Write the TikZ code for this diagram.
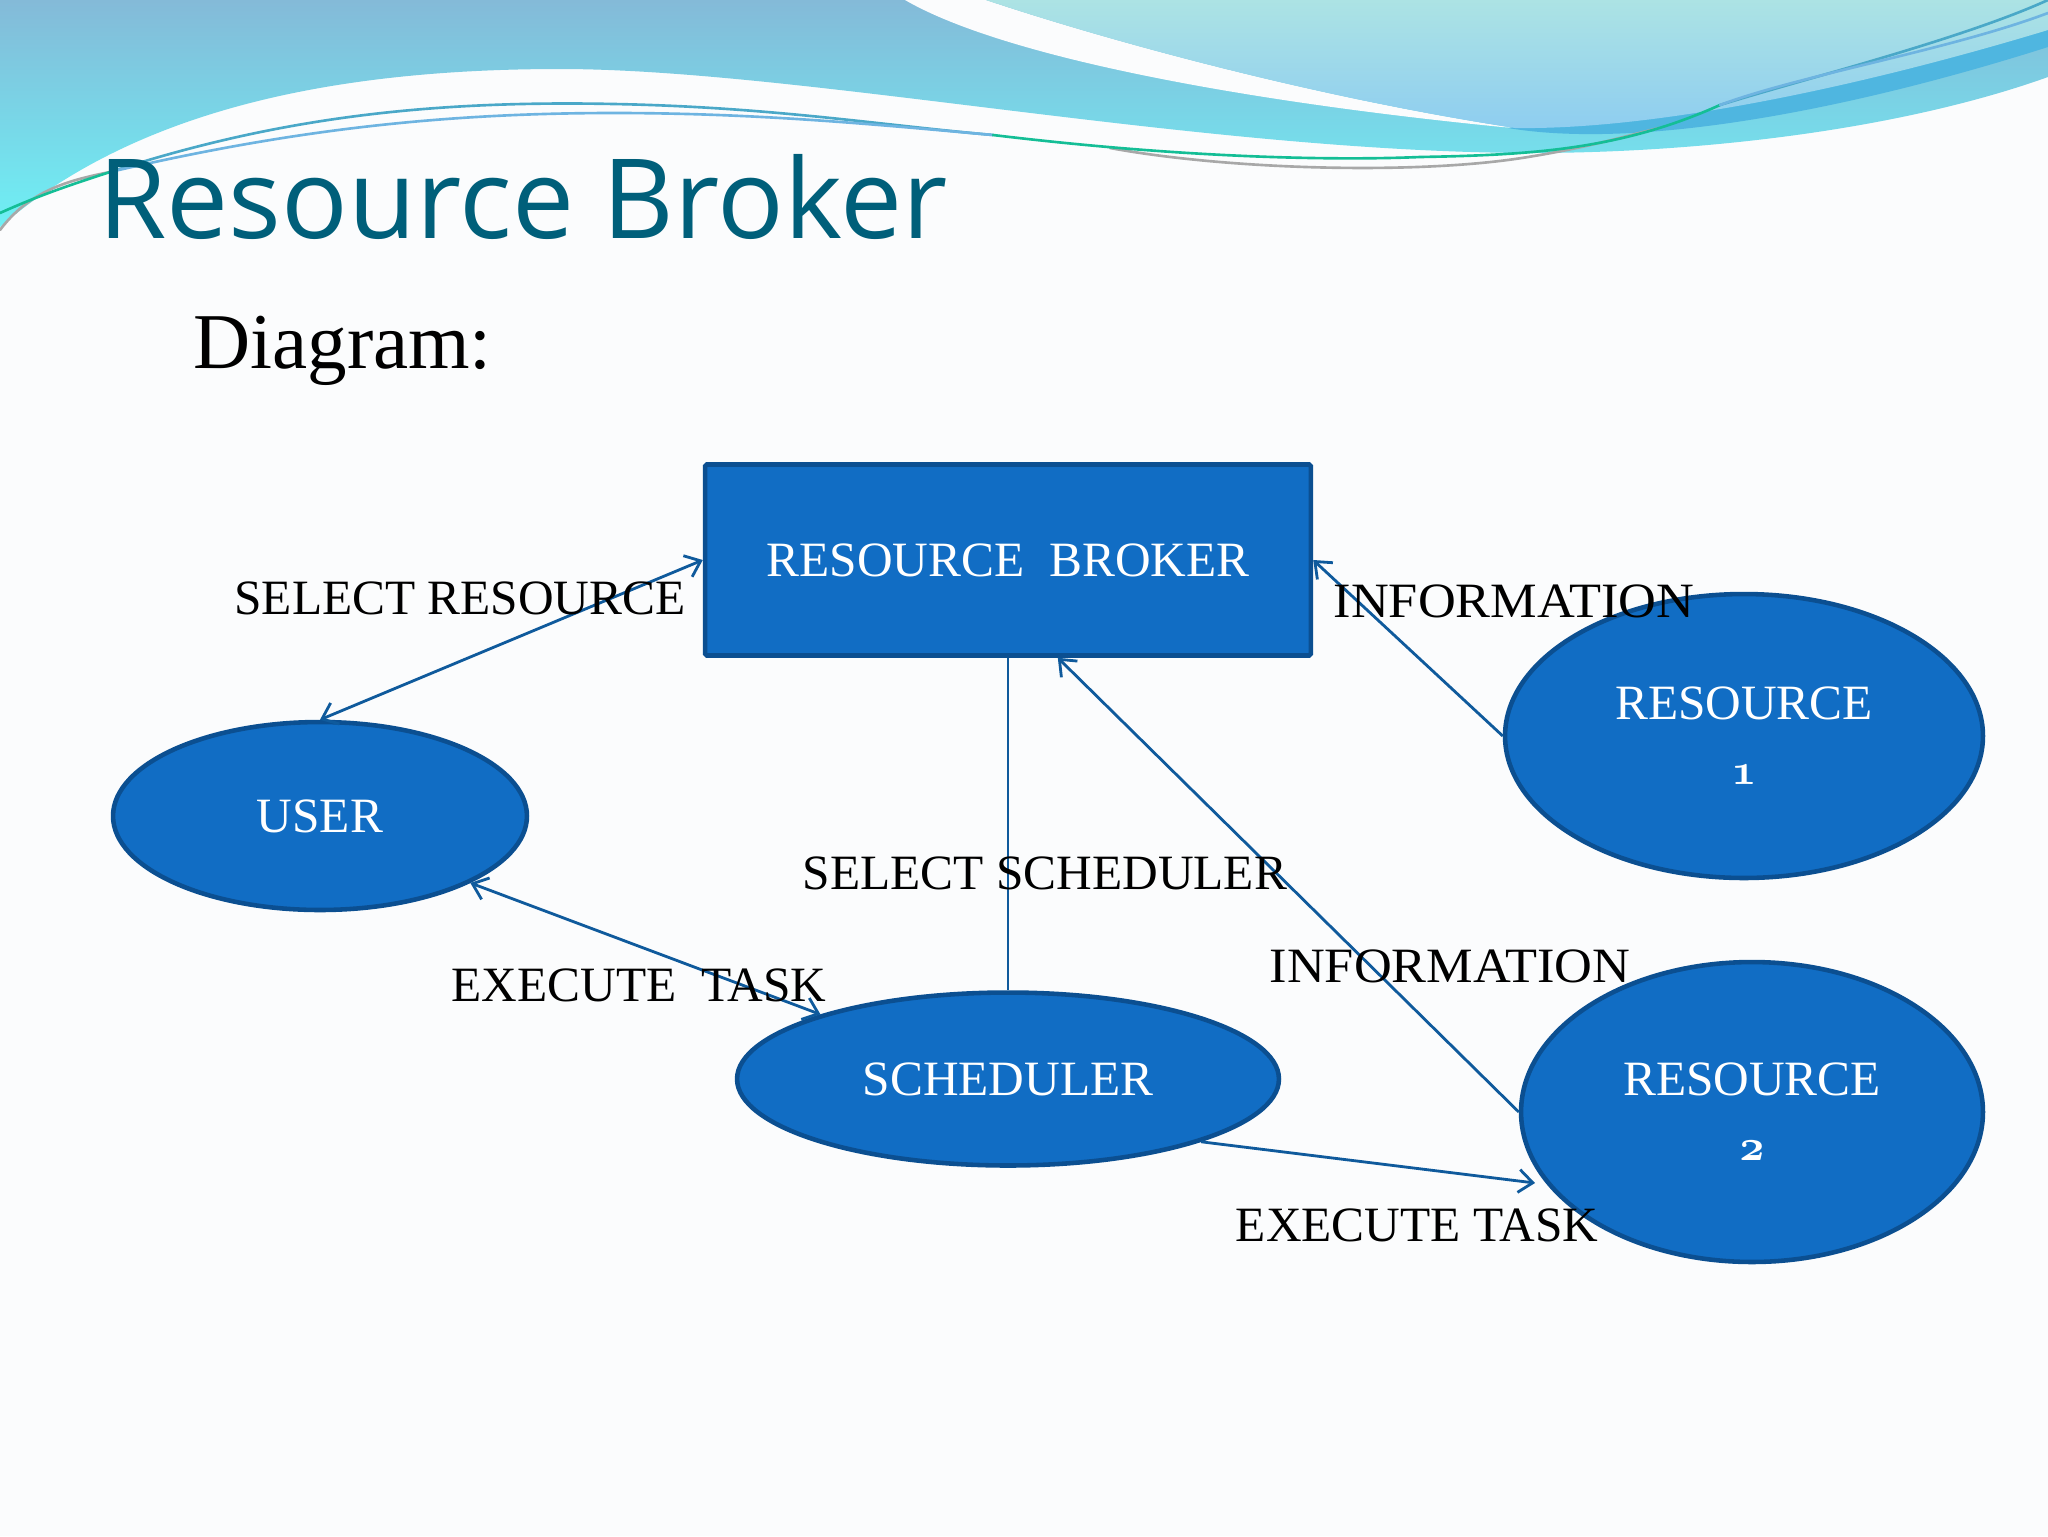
\documentclass[tikz,border=0pt]{standalone}
\usepackage{fontspec}
\setmainfont{Liberation Serif}
\newfontfamily\titlefont{Open Sans}
\usetikzlibrary{shapes.geometric, arrows.meta}
\definecolor{pagebg}{HTML}{FBFCFD}
\definecolor{nodefill}{HTML}{116DC4}
\definecolor{nodeline}{HTML}{0B4F91}
\definecolor{linkline}{HTML}{0F5A9C}
\definecolor{titleblue}{HTML}{005F7A}
\definecolor{bandtop}{HTML}{84BAD8}
\definecolor{bandlow}{HTML}{6EF0F5}
\definecolor{paletop}{HTML}{ACE3E4}
\definecolor{palelow}{HTML}{8ECDF0}
\definecolor{ribbon}{HTML}{4FB6E0}
\definecolor{curvea}{HTML}{4AA8C8}
\definecolor{curveb}{HTML}{6EB4E1}
\definecolor{curvec}{HTML}{14BE96}
\definecolor{curved}{HTML}{A8A8A8}
\newcommand\oldnum[1]{{\fontsize{38}{37}\selectfont\boldmath$\mathnormal{#1}$}}
\tikzset{
  blockfont/.style={font=\fontsize{28.1}{37}\selectfont},
  broker/.style={draw=nodeline, fill=nodefill, line width=2.6pt, rounded corners=1pt, text=white, blockfont, inner sep=0pt},
  blob/.style={broker, ellipse, align=center},
  tag/.style={blockfont, text=black, inner sep=0pt},
  link/.style={draw=linkline, line width=1.6pt, >={Straight Barb[length=8pt,width=13pt]}},
  swoosh/.style={line width=1.5pt, line cap=round}
}
\begin{document}
\begin{tikzpicture}[x=0.02cm, y=-0.02cm]
  \clip (0,0) rectangle (2048,1536);
  \fill[pagebg] (0,0) rectangle (2048,1536);

  % top banner
  \shade[top color=bandtop, bottom color=bandlow]
    (0,0) -- (2048,0) -- (2048,77) .. controls (1900,130) and (1700,153) .. (1530,153)
    .. controls (1200,152) and (800,69) .. (560,69) .. controls (320,69) and (130,115) .. (0,227) -- cycle;
  \fill[pagebg] (905,0) .. controls (1000,55) and (1230,100) .. (1502,127) -- (1515,128)
    .. controls (1300,95) and (1090,35) .. (986,0) -- cycle;
  \fill[ribbon] (1508,128) .. controls (1640,150) and (1850,110) .. (2048,47) -- (2048,20) -- (1800,70) -- cycle;
  \shade[top color=paletop, bottom color=palelow]
    (986,0) .. controls (1090,35) and (1300,95) .. (1515,128) .. controls (1650,130) and (1850,90) .. (2048,30) -- (2048,0) -- cycle;

  % thin curves
  \draw[swoosh, curvea] (110,172) .. controls (270,120) and (420,100) .. (614,104) .. controls (770,107) and (880,125) .. (993,135);
  \draw[swoosh, curveb] (110,172) .. controls (270,135) and (420,113) .. (614,113) .. controls (760,113) and (880,125) .. (993,135);
  \draw[swoosh, curved] (0,230) .. controls (30,190) and (70,180) .. (110,172);
  \draw[swoosh, curved] (1110,148) .. controls (1230,170) and (1420,175) .. (1528,157) .. controls (1590,147) and (1630,135) .. (1659,128);
  \draw[swoosh, curvec] (0,213) .. controls (40,195) and (70,185) .. (110,172);
  \draw[swoosh, curvec] (993,135) .. controls (1200,160) and (1350,160) .. (1420,157) .. controls (1530,155) and (1620,150) .. (1720,105);
  \draw[swoosh, curvea] (1720,105) .. controls (1800,80) and (1960,40) .. (2048,0);
  \draw[swoosh, curveb] (1720,105) .. controls (1800,75) and (1950,50) .. (2048,13);

  % heading
  \node[anchor=base west, inner sep=0pt, text=titleblue, font=\titlefont\fontsize{63}{70}\selectfont] (title) at (98,238) {Resource Broker};
  \node[anchor=base west, inner sep=0pt, text=black, font=\fontsize{45}{50}\selectfont] (subtitle) at (193,368) {Diagram:};

  % blocks
  \node[broker, minimum width=12.12cm, minimum height=3.82cm] (rb) at (1008,560) {RESOURCE\ \ BROKER};
  \node[blob, minimum width=8.28cm, minimum height=3.76cm] (user) at (320,816) {USER};
  \node[blob, minimum width=10.84cm, minimum height=3.46cm] (sched) at (1008,1079) {SCHEDULER};
  \node[blob, minimum width=9.56cm, minimum height=5.68cm] (resa) at (1744,736) {RESOURCE\\\oldnum{1}};
  \node[blob, minimum width=9.24cm, minimum height=6cm] (resb) at (1752,1112) {RESOURCE\\\oldnum{2}};

  \coordinate (tip) at (1535,1183);

  % links
  \draw[link, <->] (user.north) -- (rb.west);
  \draw[link, <->] (user.-24.5) -- (sched.161.2);
  \draw[link] (rb.south) -- (sched.north);
  \draw[link, ->] (resa.west) -- (rb.east);
  \draw[link, ->] (resb.west) -- (rb.-63.7);
  \draw[link, ->] (sched.-18.3) -- (tip);

  % labels
  \node[tag] (tselect) at (460,598) {SELECT RESOURCE};
  \node[tag, xscale=1.06] (tinfoa) at (1514,601) {INFORMATION};
  \node[tag] (tsched) at (1045,873) {SELECT SCHEDULER};
  \node[tag, xscale=1.06] (tinfob) at (1450,966) {INFORMATION};
  \node[tag] (texeca) at (639,985) {EXECUTE\ \ TASK};
  \node[tag] (texecb) at (1417,1225) {EXECUTE TASK};
\end{tikzpicture}
\end{document}
